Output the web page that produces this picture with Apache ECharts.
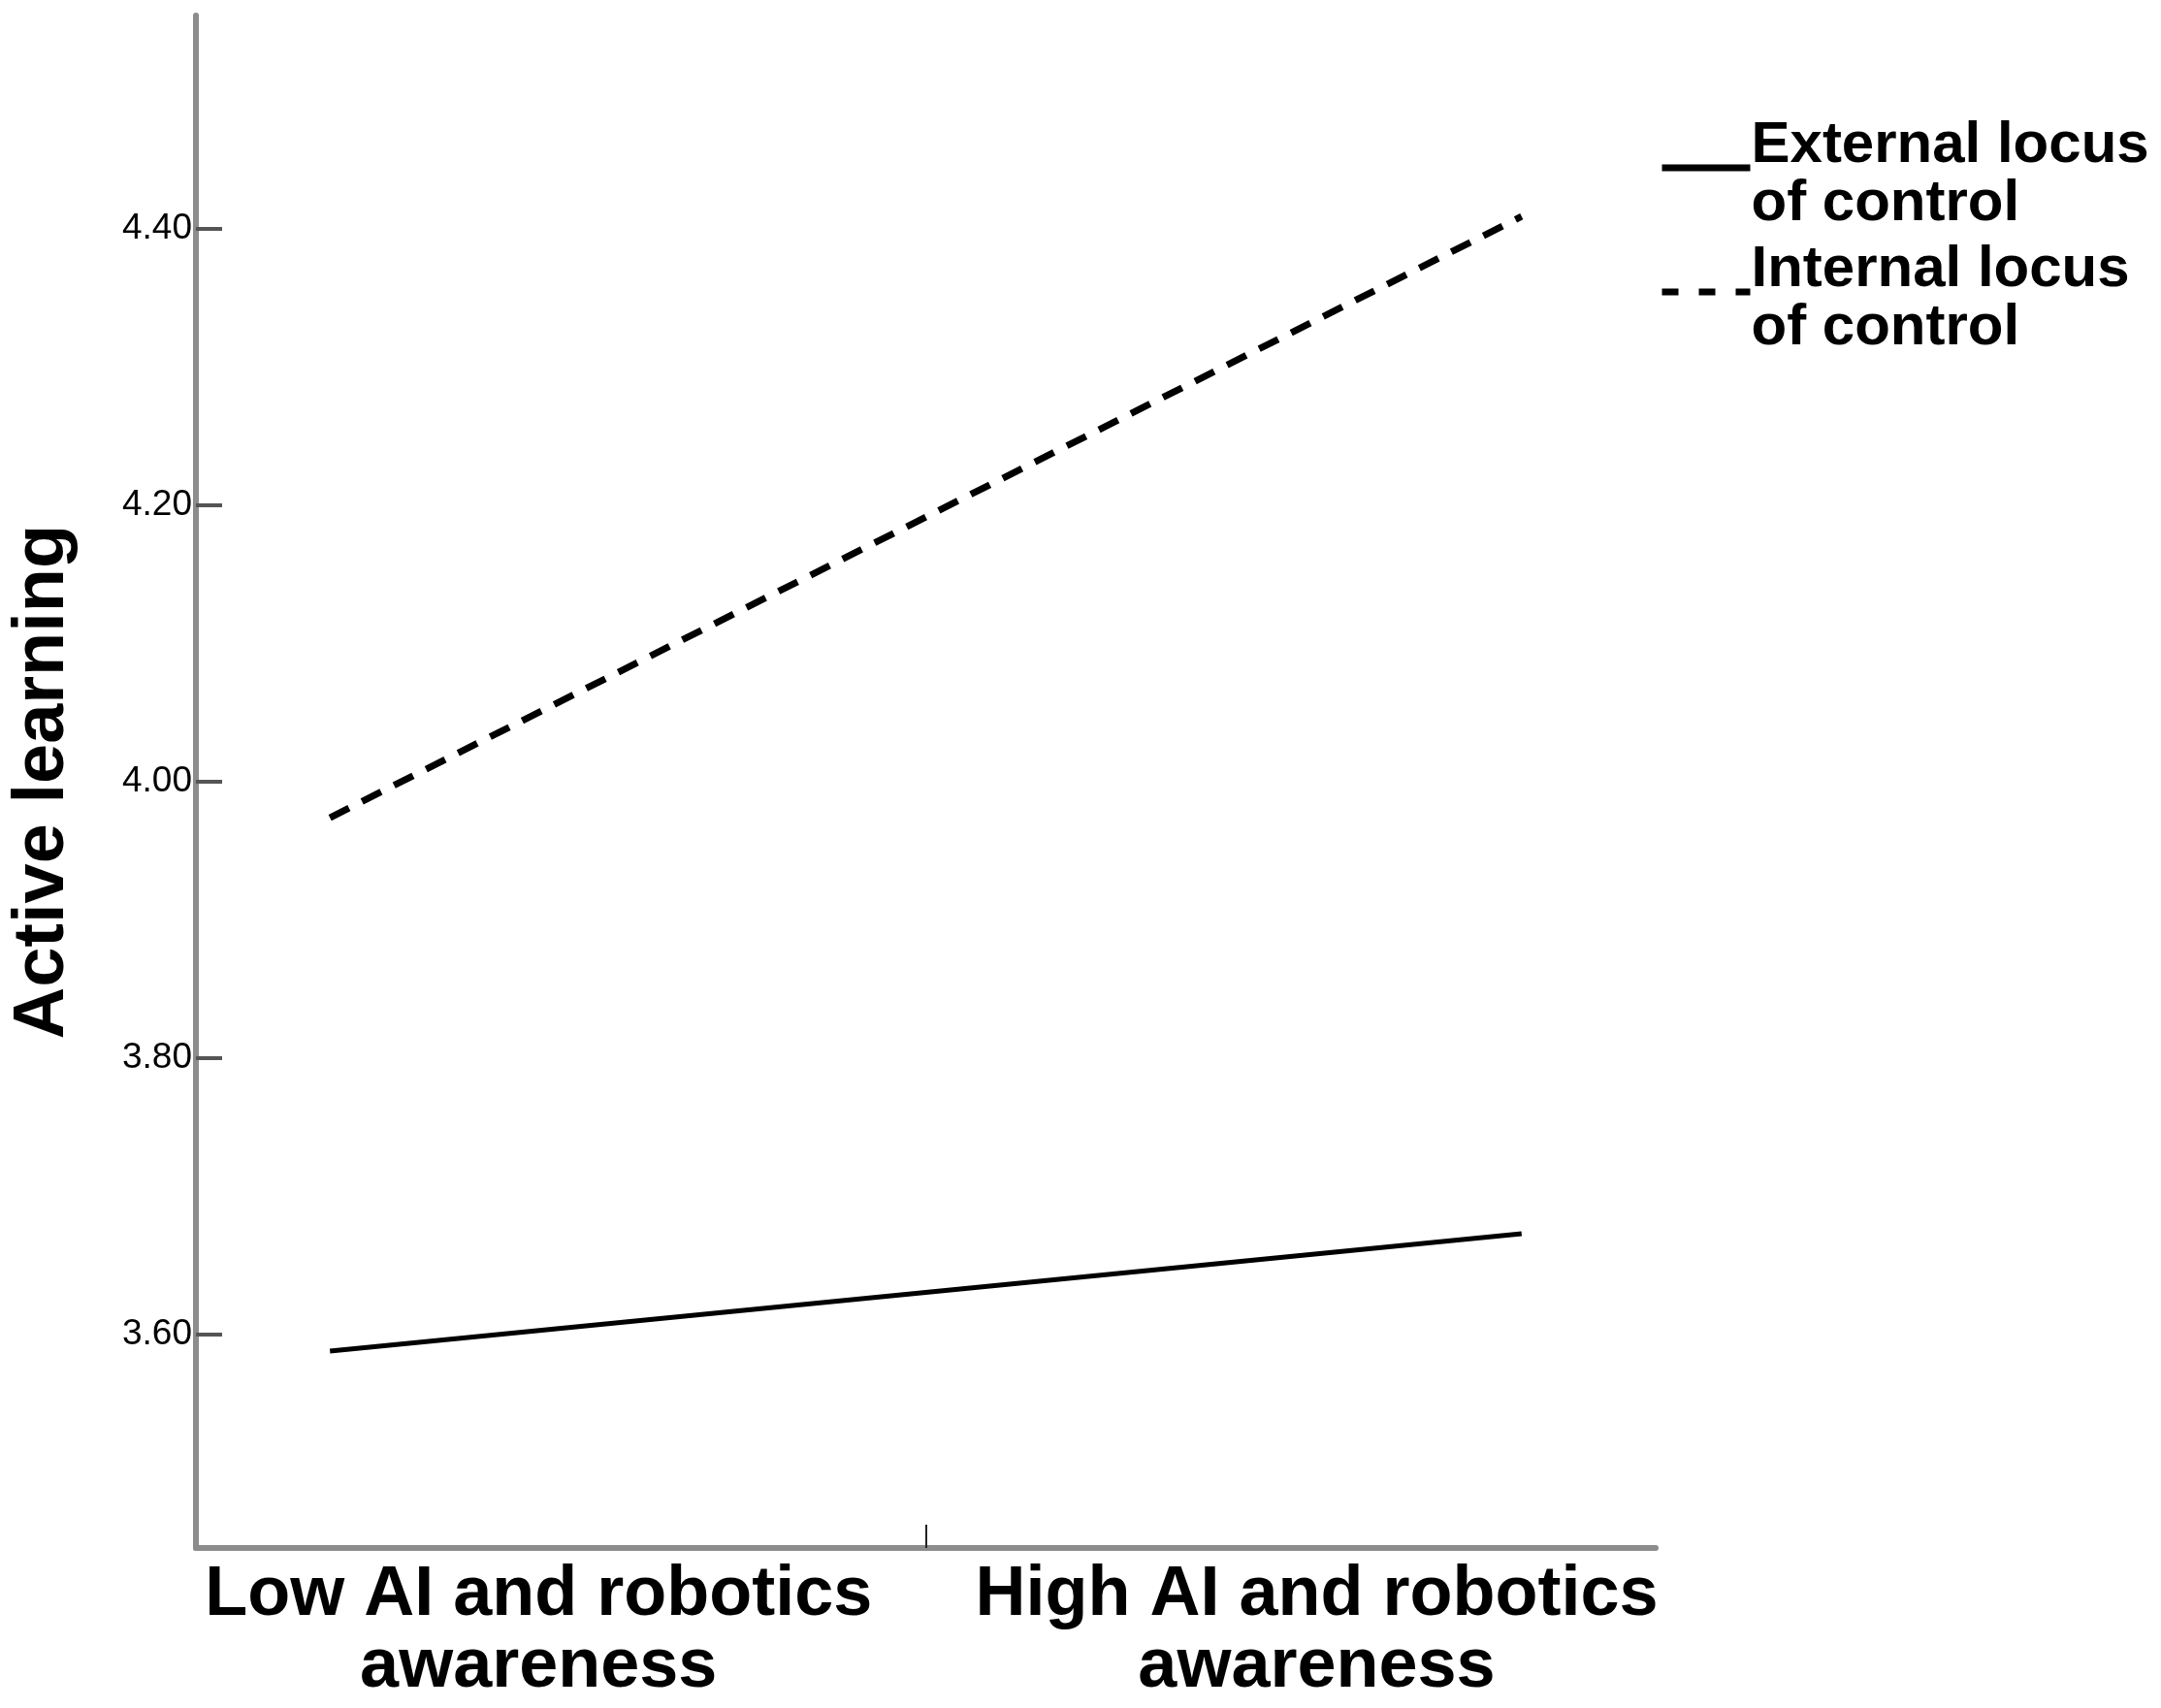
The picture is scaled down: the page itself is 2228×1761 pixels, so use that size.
<!DOCTYPE html>
<html>
<head>
<meta charset="utf-8">
<title>Active learning interaction plot</title>
<script src="https://cdn.jsdelivr.net/npm/echarts@6/dist/echarts.min.js"></script>
<style>
  html, body { margin: 0; padding: 0; background: #fff; }
  #chart { width: 2228px; height: 1761px; }
</style>
</head>
<body>
<div id="chart"></div>
<script>
// x categories (low = -1 SD, high = +1 SD of awareness)
const categories = ['Low AI and robotics\nawareness', 'High AI and robotics\nawareness']
const xPoints = [-1, 1]
const seriesNames = ['External locus of control', 'Internal locus of control']
const externalValues = [3.588, 3.673]
const internalValues = [3.974, 4.409]
const yTicks = [3.6, 3.8, 4.0, 4.2, 4.4]
const yMin = 3.4456
const yMax = 4.5544

const FONT = '"Liberation Sans", Arial, sans-serif'
const axisGray = '#8c8c8c'

const chart = echarts.init(document.getElementById('chart'), null, { renderer: 'canvas' })

function pairs(ys) {
  return xPoints.map((x, i) => [x, ys[i]])
}

// legend label on two lines, first line taller so the sample line sits near its baseline
function legendLabel(name) {
  const idx = name.indexOf(' of ')
  return '{l1|' + name.slice(0, idx) + '}\n{l2|' + name.slice(idx + 1) + '}'
}

const legendText = { fontFamily: FONT, fontWeight: 'bold', fontSize: 60, color: '#000' }

chart.setOption({
  backgroundColor: '#fff',
  animation: false,
  color: ['#000', '#000'],
  grid: { left: 200, right: 521, top: 16, bottom: 165 },
  legend: {
    orient: 'vertical',
    left: 1705,
    top: 115,
    itemWidth: 91,
    itemHeight: 20,
    itemGap: 8,
    itemStyle: { opacity: 0 },
    data: [
      { name: seriesNames[0], lineStyle: { color: '#000', width: 7, type: 'solid' } },
      { name: seriesNames[1], lineStyle: { color: '#000', width: 7, type: [17, 21], cap: 'butt' } },
    ],
    formatter: legendLabel,
    textStyle: {
      ...legendText,
      padding: [0, 0, 0, -4],
      rich: {
        l1: { ...legendText, lineHeight: 74 },
        l2: { ...legendText, lineHeight: 46 },
      },
    },
  },
  xAxis: {
    type: 'value',
    min: -1.225,
    max: 1.225,
    splitLine: { show: false },
    axisLine: { show: true, onZero: false, lineStyle: { color: axisGray, width: 6 } },
    axisTick: {
      show: true,
      inside: true,
      length: 24,
      customValues: [0],
      lineStyle: { color: '#222', width: 2 },
    },
    axisLabel: {
      customValues: [-0.65, 0.656],
      formatter: v => (v < 0 ? categories[0] : categories[1]),
      margin: 12,
      fontFamily: FONT,
      fontWeight: 'bold',
      fontSize: 72,
      lineHeight: 74,
      color: '#000',
      align: 'center',
    },
  },
  yAxis: {
    type: 'value',
    min: yMin,
    max: yMax,
    name: 'Active learning',
    nameLocation: 'middle',
    nameGap: 120,
    nameRotate: 90,
    nameTextStyle: {
      fontFamily: FONT,
      fontWeight: 'bold',
      fontSize: 74,
      color: '#000',
    },
    splitLine: { show: false },
    axisLine: { show: true, onZero: false, lineStyle: { color: axisGray, width: 6 } },
    axisTick: {
      show: true,
      inside: true,
      length: 27,
      customValues: yTicks,
      lineStyle: { color: '#555', width: 4 },
    },
    axisLabel: {
      customValues: yTicks,
      formatter: v => v.toFixed(2),
      margin: 4,
      fontFamily: FONT,
      fontSize: 37,
      color: '#000',
    },
  },
  series: [
    {
      name: seriesNames[0],
      type: 'line',
      data: pairs(externalValues),
      symbol: 'none',
      lineStyle: { color: '#000', width: 5, type: 'solid' },
    },
    {
      name: seriesNames[1],
      type: 'line',
      data: pairs(internalValues),
      symbol: 'none',
      lineStyle: { color: '#000', width: 7, type: [22, 15], cap: 'butt' },
    },
  ],
})

window.addEventListener('resize', () => chart.resize())
</script>
</body>
</html>
